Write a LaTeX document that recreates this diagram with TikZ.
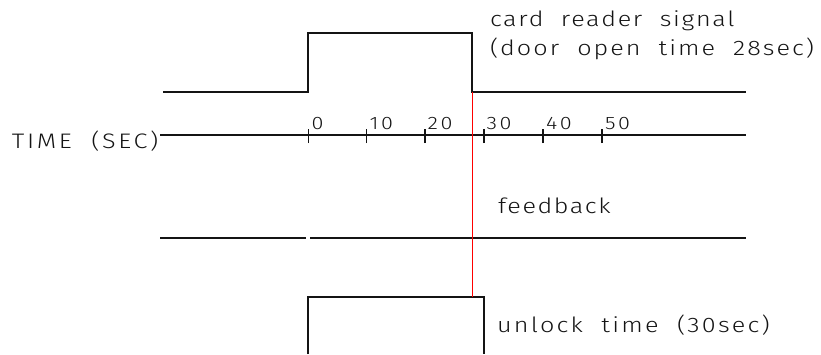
\documentclass[tikz,border=0pt]{standalone}
\usepackage{fontspec}
\usepackage{xcolor}
\usepackage{tikz}
\setmainfont{Liberation Sans}
\newfontfamily\cadfont[FakeStretch=1.2,WordSpace=2]{Fira Sans Light}

\begin{document}
\begin{tikzpicture}[x=1pt,y=1pt,
  lbl/.style={text=drawColor,anchor=base west,inner sep=0pt,outer sep=0pt},
  ticklbl/.style={lbl,font=\cadfont\addfontfeature{LetterSpace=15}\fontsize{18}{20}\selectfont}]
\definecolor{fillColor}{RGB}{255,255,255}
\definecolor{drawColor}{RGB}{20,20,20}
\path[use as bounding box,fill=fillColor] (0,0) rectangle (821,354);
\begin{scope}

% card reader signal
\coordinate (cardA) at (163,262);
\coordinate (cardB) at (308,262);
\coordinate (cardC) at (308,321);
\coordinate (cardD) at (472,321);
\coordinate (cardE) at (472,262);
\coordinate (cardF) at (746,262);
\path[draw=drawColor,line width= 1.1pt,line join=miter] (cardA) -- (cardB) -- (cardC) -- (cardD) -- (cardE) -- (cardF);

% time axis
\coordinate (axisL) at (160,219);
\coordinate (axisR) at (746,219);
\path[draw=drawColor,line width= 1.1pt] (axisL) -- (axisR);

\path[draw=drawColor,line width= 1.1pt] (308.3,211) -- (308.3,225);

\path[draw=drawColor,line width= 1.1pt] (366.7,211) -- (366.7,225);

\path[draw=drawColor,line width= 1.1pt] (425.0,211) -- (425.0,225);

\path[draw=drawColor,line width= 1.1pt] (484.0,211) -- (484.0,225);

\path[draw=drawColor,line width= 1.1pt] (543.0,211) -- (543.0,225);

\path[draw=drawColor,line width= 1.1pt] (602.0,211) -- (602.0,225);

\node (t0) [ticklbl] at (311.5,225) {0};

\node (t10) [ticklbl] at (369.5,225) {10};

\node (t20) [ticklbl] at (427.5,225) {20};

\node (t30) [ticklbl] at (486.5,225) {30};

\node (t40) [ticklbl] at (546.0,225) {40};

\node (t50) [ticklbl] at (605.0,225) {50};

\node (timeLbl) [lbl,font=\cadfont\addfontfeature{LetterSpace=12.7}\fontsize{21}{24}\selectfont] at (12,206) {TIME (SEC)};

% feedback
\coordinate (fbA) at (160,116);
\coordinate (fbB) at (306,116);
\coordinate (fbC) at (310,116);
\coordinate (fbD) at (746,116);
\path[draw=drawColor,line width= 1.1pt] (fbA) -- (fbB);
\path[draw=drawColor,line width= 1.1pt] (fbC) -- (fbD);

% unlock time
\coordinate (unA) at (308,0);
\coordinate (unB) at (308,57);
\coordinate (unC) at (484,57);
\coordinate (unD) at (484,0);
\path[draw=drawColor,line width= 1.1pt,line join=miter] (unA) -- (unB) -- (unC) -- (unD);

\node (cardLbl) [lbl,font=\cadfont\addfontfeature{LetterSpace=8}\fontsize{21}{24}\selectfont] at (490,327) {card reader signal};

\node (doorLbl) [lbl,font=\cadfont\addfontfeature{LetterSpace=9.6}\fontsize{21}{24}\selectfont] at (490,298) {(door open time 28sec)};

\node (fbLbl) [lbl,font=\cadfont\addfontfeature{LetterSpace=7.5}\fontsize{21}{24}\selectfont] at (498,141) {feedback};

\node (unLbl) [lbl,font=\cadfont\addfontfeature{LetterSpace=10.6}\fontsize{21}{24}\selectfont] at (497,22) {unlock time (30sec)};
\end{scope}
\begin{scope}
\definecolor{redColor}{RGB}{255,0,0}

\path[draw=redColor,line width= 0.8pt] (cardE) -- (unB -| cardE);
\end{scope}
\end{tikzpicture}
\end{document}
